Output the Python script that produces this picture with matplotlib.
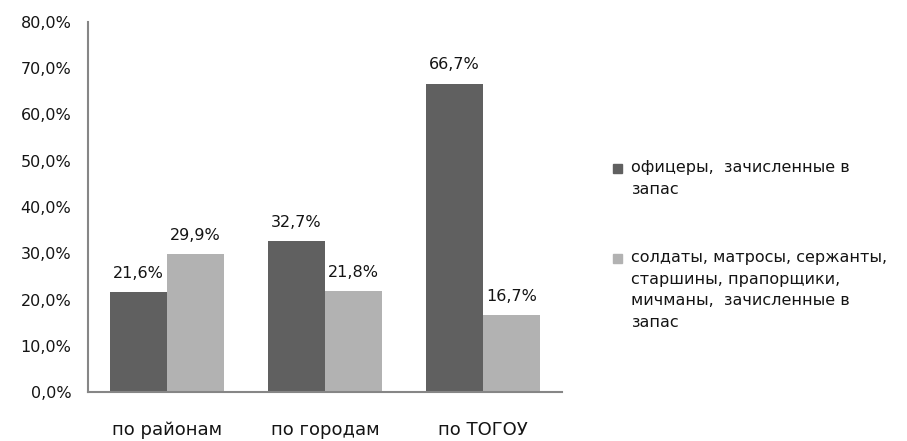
import matplotlib
matplotlib.use("Agg")
import matplotlib.pyplot as plt
from matplotlib.patches import Rectangle

categories = ["по районам", "по городам", "по ТОГОУ"]
officers = [21.6, 32.7, 66.7]
soldiers = [29.9, 21.8, 16.7]
series_names = ["офицеры,  зачисленные в\nзапас",
                "солдаты, матросы, сержанты,\nстаршины, прапорщики,\nмичманы,  зачисленные в\nзапас"]
yticks = [0, 10, 20, 30, 40, 50, 60, 70, 80]

plt.rcParams['font.family'] = ['DejaVu Sans']
dark = "#606060"
light = "#b2b2b2"
txt = "#141414"

fig = plt.figure(figsize=(9.07, 4.41), dpi=100)
ax = fig.add_axes([88/907, (441-392)/441, (562-88)/907, (392-22)/441])

w = 0.36
x = range(len(categories))
b1 = ax.bar([i - w/2 for i in x], officers, width=w, color=dark)
b2 = ax.bar([i + w/2 for i in x], soldiers, width=w, color=light)

for bars, vals in ((b1, officers), (b2, soldiers)):
    for b, v in zip(bars, vals):
        ax.annotate(f"{v:.1f}%".replace(".", ","),
                    (b.get_x() + b.get_width()/2, v),
                    xytext=(0, 8), textcoords="offset points",
                    ha="center", va="bottom", fontsize=11.5, color=txt)

ax.set_xlim(-0.5, 2.5)
ax.set_ylim(0, 80)
ax.set_yticks(yticks)
ax.set_yticklabels([f"{t:.1f}%".replace(".", ",") for t in yticks], fontsize=11.5, color=txt)
ax.set_xticks(list(x))
ax.set_xticklabels(categories, fontsize=13, color=txt)
ax.tick_params(axis="both", length=0)
ax.tick_params(axis="y", pad=12)
ax.tick_params(axis="x", pad=21)
for s in ("top", "right"):
    ax.spines[s].set_visible(False)
for s in ("left", "bottom"):
    ax.spines[s].set_color("#868686")
    ax.spines[s].set_linewidth(1.5)

# legend
def px(xp, yp):
    return (xp/907, 1 - yp/441)

for color, label, ytop in ((dark, series_names[0], 160), (light, series_names[1], 250)):
    sx, sy = px(613, ytop + 13)
    fig.patches.append(Rectangle((sx, sy), 9/907, 9/441, transform=fig.transFigure,
                                 color=color, figure=fig))
    tx, ty = px(631, ytop)
    fig.text(tx, ty, label, fontsize=11.5, color=txt, va="top", ha="left",
             linespacing=1.55)

fig.savefig("out.png", dpi=100)
